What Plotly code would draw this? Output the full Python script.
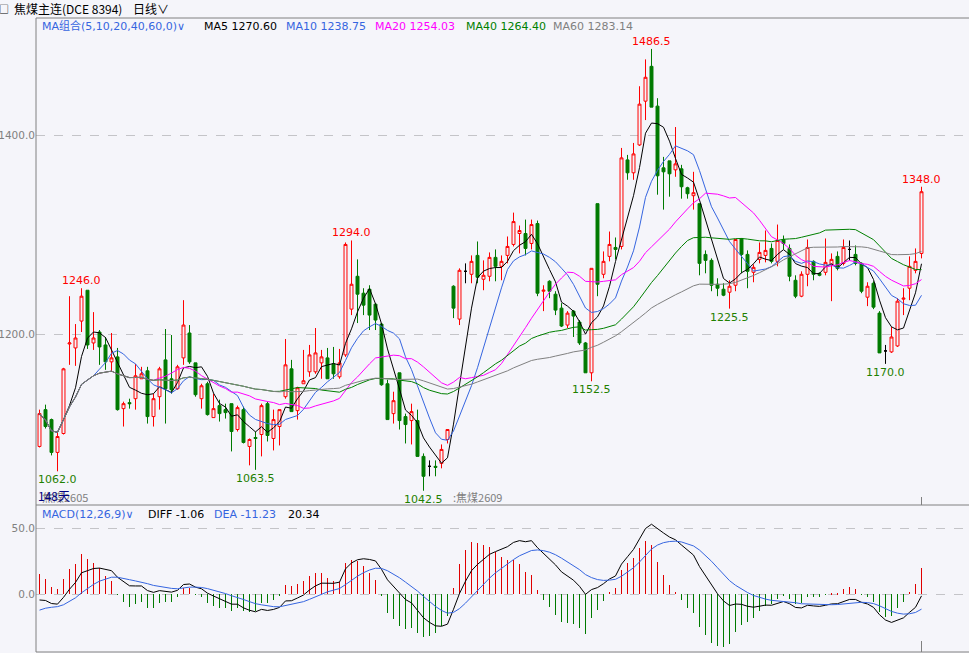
import plotly.graph_objects as go
import numpy as np
import pandas as pd

# ---------------- data ----------------
opens = [1087,1124,1114,1081,1100,1190,1186,1213,1244,1191,1202,1189,1172,1177,1125,1131,1135,1155,1163,1117,
         1137,1174,1155,1145,1176,1201,1171,1135,1150,1116,1128,1124,1130,1104,1124,1087,1096,1099,1130,1095,
         1107,1137,1165,1123,1150,1162,1162,1171,1176,1170,1157,1179,1225,1258,1241,1245,1230,1210,1150,1120,
         1161,1117,1113,1113,1077,1067,1067,1070,1094,1248,1215,1263,1260,1279,1255,1258,1277,1268,1279,1290,
         1301,1301,1291,1311,1243,1253,1240,1226,1209,1223,1212,1191,1161,1331,1260,1278,1287,1288,1375,1362,
         1390,1434,1469,1429,1367,1374,1365,1366,1347,1339,1331,1280,1274,1250,1245,1242,1249,1296,1280,1262,
         1275,1279,1286,1273,1295,1286,1254,1238,1260,1273,1261,1262,1270,1278,1271,1285,1280,1271,1237,1251,
         1221,1183,1182,1188,1235,1246,1264,1281]
highs = [1124,1129,1115,1102,1166,1238,1210,1246,1244,1222,1204,1197,1201,1186,1132,1135,1170,1167,1167,1140,
         1167,1205,1199,1169,1234,1209,1171,1150,1152,1140,1134,1130,1130,1128,1127,1095,1102,1130,1132,1124,
         1124,1195,1174,1147,1184,1189,1206,1184,1186,1187,1185,1292,1294,1275,1246,1249,1231,1211,1154,1142,
         1161,1120,1130,1124,1080,1073,1073,1089,1104,1249,1266,1271,1279,1293,1274,1282,1285,1279,1298,1322,
         1309,1315,1315,1314,1249,1254,1243,1231,1223,1224,1214,1192,1266,1331,1283,1303,1297,1387,1380,1392,
         1449,1476,1486.5,1437,1378,1374,1408,1370,1348,1363,1331,1284,1276,1256,1251,1254,1295,1296,1284,1270,
         1292,1304,1291,1310,1299,1290,1259,1263,1295,1274,1262,1296,1281,1283,1295,1294,1289,1272,1252,1253,
         1223,1189,1207,1236,1246,1278,1286,1348]
lows = [1086,1105,1078,1062,1099,1169,1168,1202,1185,1184,1169,1164,1162,1123,1107,1125,1124,1155,1110,1107,
        1124,1110,1140,1144,1169,1170,1137,1125,1118,1116,1112,1115,1082,1102,1090,1068,1063.5,1077,1092,1083,
        1088,1135,1122,1114,1150,1157,1160,1155,1155,1155,1155,1177,1219,1211,1219,1204,1204,1148,1114,1110,
        1104,1090,1089,1077,1042.5,1057,1057,1065,1090,1216,1209,1251,1251,1251,1244,1253,1253,1254,1271,1288,
        1281,1279,1285,1238,1223,1236,1219,1207,1206,1197,1189,1161,1152.5,1238,1256,1273,1275,1285,1355,1355,
        1389,1415,1428,1340,1325,1338,1358,1336,1336,1325,1259,1261,1243,1238,1238,1225.5,1243,1261,1246,1252,
        1271,1272,1271,1268,1285,1253,1236,1237,1248,1254,1258,1259,1233,1264,1269,1274,1269,1241,1228,1225,
        1181,1170,1181,1187,1219,1234,1261,1276]
closes = [1120,1107,1081,1097,1165,1191,1196,1238,1189,1196,1187,1172,1176,1124,1130,1130,1158,1160,1117,1135,
          1165,1145,1144,1167,1209,1172,1139,1148,1119,1125,1120,1121,1102,1126,1091,1094,1095,1128,1098,1114,
          1124,1169,1122,1146,1153,1179,1181,1177,1155,1160,1171,1290,1250,1240,1229,1219,1214,1149,1114,1133,
          1113,1109,1122,1077,1057,1067,1066,1084,1104,1226,1264,1263,1273,1257,1259,1277,1268,1273,1288,1313,
          1304,1286,1310,1241,1244,1243,1224,1208,1221,1218,1191,1161,1266,1250,1273,1290,1285,1377,1362,1381,
          1431,1458,1428,1359,1363,1361,1371,1348,1341,1342,1271,1274,1249,1246,1239,1248,1295,1280,1263,1267,
          1282,1284,1273,1294,1291,1258,1238,1260,1287,1260,1259,1272,1275,1266,1287,1285,1271,1243,1248,1227,
          1181,1183,1197,1233,1236,1268,1273,1343]

ma_periods = [5, 10, 20, 40, 60]
ma_colors = ["#000000", "#3565e0", "#ff00ff", "#008000", "#808080"]
ma_legend_values = ["1270.60", "1238.75", "1254.03", "1264.40", "1283.14"]

high_marks = [7, 52, 102, 147]
low_marks = [3, 36, 64, 92, 115, 141]

contract_labels = ["焦煤2605", "焦煤2609"]
contract_start = [0, 69]

# MACD panel start values (seed for EMA history)
DIFF_START = -4.3
DEA_START = -12.0
macd_legend = ["-1.06", "-11.23", "20.34"]

# ---------------- derived ----------------
n = len(closes)
idx = np.arange(n)
cs = pd.Series(closes, dtype=float)

doji = [o == c for o, c in zip(opens, closes)]

ema_s = closes[0] + DIFF_START
ema_l = float(closes[0])
dea = DEA_START
diffs, deas = [DIFF_START], [DEA_START]
for c in closes[1:]:
    ema_s = ema_s * 11 / 13 + c * 2 / 13
    ema_l = ema_l * 25 / 27 + c * 2 / 27
    d = ema_s - ema_l
    dea = dea * 0.8 + d * 0.2
    diffs.append(d)
    deas.append(dea)
diffs = np.array(diffs)
deas = np.array(deas)
hist = 2 * (diffs - deas)

# ---------------- layout helpers ----------------
W, H = 969, 653
L, T, B = 36, 18, 1
PW, PH = W - L, H - T - B
STEP, X0 = 6.0, 39.5   # pixel spacing of bars and centre of the first bar
def px(x):
    return (x - L) / PW
def py(y):
    return (H - B - y) / PH

BG = "#f5f5fa"
GRID = "#c4c4c8"
FONT = "DejaVu Sans"
CJK = "Noto Sans CJK SC"

fig = go.Figure()

# candles
nd = [i for i in range(n) if not doji[i]]
dj = [i for i in range(n) if doji[i]]
fig.add_trace(go.Candlestick(
    x=[idx[i] for i in nd], open=[opens[i] for i in nd], high=[highs[i] for i in nd],
    low=[lows[i] for i in nd], close=[closes[i] for i in nd],
    increasing=dict(line=dict(color="#ff0000", width=1), fillcolor=BG),
    decreasing=dict(line=dict(color="#007a00", width=1), fillcolor="#007a00"),
    whiskerwidth=0, xaxis="x", yaxis="y", showlegend=False, hoverinfo="skip"))
fig.add_trace(go.Candlestick(
    x=[idx[i] for i in dj], open=[opens[i] for i in dj], high=[highs[i] for i in dj],
    low=[lows[i] for i in dj], close=[closes[i] for i in dj],
    increasing=dict(line=dict(color="#000000", width=1), fillcolor="#000000"),
    decreasing=dict(line=dict(color="#000000", width=1), fillcolor="#000000"),
    whiskerwidth=0, xaxis="x", yaxis="y", showlegend=False, hoverinfo="skip"))

# moving averages
for p, col in zip(ma_periods, ma_colors):
    ma = cs.rolling(p, min_periods=1).mean()
    fig.add_trace(go.Scatter(x=idx, y=ma, mode="lines", line=dict(color=col, width=1),
                             xaxis="x", yaxis="y", showlegend=False, hoverinfo="skip"))

# MACD
fig.add_trace(go.Bar(x=idx, y=hist, width=1 / STEP,
                     marker=dict(color=["#e00000" if v >= 0 else "#007a00" for v in hist], line=dict(width=0)),
                     xaxis="x2", yaxis="y2", showlegend=False, hoverinfo="skip"))
fig.add_trace(go.Scatter(x=idx, y=diffs, mode="lines", line=dict(color="#000000", width=1),
                         xaxis="x2", yaxis="y2", showlegend=False, hoverinfo="skip"))
fig.add_trace(go.Scatter(x=idx, y=deas, mode="lines", line=dict(color="#3565e0", width=1),
                         xaxis="x2", yaxis="y2", showlegend=False, hoverinfo="skip"))

xr = [(L - X0) / STEP, (W - X0) / STEP]
split = py(505)

annotations = []
# title
annotations.append(dict(x=px(0), y=py(8), xref="paper", yref="paper", xanchor="left", yanchor="middle",
                        text="□", showarrow=False, font=dict(family=CJK, size=10, color="#000000"), xshift=-3))
annotations.append(dict(x=px(12), y=py(8), xref="paper", yref="paper", xanchor="left", yanchor="middle",
                        text="焦煤主连(DCE 8394)", showarrow=False,
                        font=dict(family=CJK, size=12, color="#000000")))
annotations.append(dict(x=px(131), y=py(8), xref="paper", yref="paper", xanchor="left", yanchor="middle",
                        text="日线∨", showarrow=False,
                        font=dict(family=CJK, size=12, color="#000000")))
# MA legend row
annotations.append(dict(x=px(40), y=py(26), xref="paper", yref="paper", xanchor="left", yanchor="middle",
                        text="MA组合(5,10,20,40,60,0)∨", showarrow=False,
                        font=dict(family=FONT + ", " + CJK, size=11, color="#3565e0")))
leg_x = [202, 284, 373, 464, 551]
leg_cols = ["#000000", "#3565e0", "#ff00ff", "#008000", "#808080"]
for p, v, xx, col in zip(ma_periods, ma_legend_values, leg_x, leg_cols):
    annotations.append(dict(x=px(xx), y=py(26), xref="paper", yref="paper", xanchor="left", yanchor="middle",
                            text=f"MA{p} {v}", showarrow=False, font=dict(family=FONT, size=11, color=col)))
# MACD legend row
macd_items = [("MACD(12,26,9)∨", 40, "#3565e0"), (f"DIFF {macd_legend[0]}", 146, "#000000"),
              (f"DEA {macd_legend[1]}", 212, "#3565e0"), (macd_legend[2], 286, "#000000")]
for t, xx, col in macd_items:
    annotations.append(dict(x=px(xx), y=py(514), xref="paper", yref="paper", xanchor="left", yanchor="middle",
                            text=t, showarrow=False, font=dict(family=FONT, size=11, color=col)))
# extreme labels
for i in high_marks:
    annotations.append(dict(x=idx[i], y=highs[i], xref="x", yref="y", xanchor="center", yanchor="bottom",
                            text=f"{highs[i]:.1f}", showarrow=False, yshift=-1,
                            font=dict(family=FONT, size=11, color="#ff0000")))
for i in low_marks:
    annotations.append(dict(x=idx[i], y=lows[i], xref="x", yref="y", xanchor="center", yanchor="top",
                            text=f"{lows[i]:.1f}", showarrow=False, yshift=0,
                            font=dict(family=FONT, size=11, color="#1f8000")))
# contract labels
for lab, s in zip(contract_labels, contract_start):
    annotations.append(dict(x=idx[s], y=py(497), xref="x", yref="paper", xanchor="left", yanchor="middle",
                            text=(":" if s > 0 else "") + lab, showarrow=False, xshift=-3 if s > 0 else 0,
                            font=dict(family=CJK, size=11, color="#808080")))
annotations.append(dict(x=px(36), y=py(495), xref="paper", yref="paper", xanchor="left", yanchor="middle",
                        text=f"{n}天", showarrow=False,
                        font=dict(family=CJK, size=12, color="#000080")))

shapes = [
    dict(type="line", xref="paper", yref="paper", x0=0, x1=1, y0=1, y1=1, line=dict(color="#808080", width=1)),
    dict(type="line", xref="paper", yref="paper", x0=0, x1=0, y0=0, y1=1, line=dict(color="#808080", width=1)),
    dict(type="line", xref="paper", yref="paper", x0=0, x1=1, y0=split, y1=split, line=dict(color="#808080", width=1)),
    dict(type="line", xref="paper", yref="paper", x0=0, x1=1, y0=0, y1=0, line=dict(color="#808080", width=1)),
    dict(type="line", xref="x", yref="paper", x0=idx[-1], x1=idx[-1], y0=split, y1=py(497),
         line=dict(color="#808080", width=1)),
    dict(type="line", xref="x", yref="paper", x0=idx[-1], x1=idx[-1], y0=0, y1=py(641),
         line=dict(color="#808080", width=1)),
]

axis_font = dict(family=FONT, size=10.5, color="#808080")
fig.update_layout(
    width=W, height=H, margin=dict(l=L, r=0, t=T, b=B, autoexpand=False),
    paper_bgcolor=BG, plot_bgcolor=BG,
    xaxis=dict(domain=[0, 1], range=xr, anchor="y", showgrid=False, zeroline=False, automargin=False,
               showticklabels=False, rangeslider=dict(visible=False), fixedrange=True),
    xaxis2=dict(domain=[0, 1], range=xr, anchor="y2", showgrid=False, zeroline=False, automargin=False,
                showticklabels=False, fixedrange=True),
    yaxis=dict(domain=[split, 1], range=[1400 - (505 - 135) * 1.005, 1400 + (135 - 18) * 1.005],
               tickvals=[1200, 1400], tickformat=".1f", showgrid=True, gridcolor=GRID, griddash="dash",
               zeroline=False, tickfont=axis_font, ticks="", anchor="x", automargin=False,
               ticklabelstandoff=0),
    yaxis2=dict(domain=[0, split], range=[(594.3 - 652) / 1.32, (594.3 - 505) / 1.32],
                tickvals=[0, 50], tickformat=".1f", showgrid=True, gridcolor=GRID, griddash="dash",
                zeroline=False, tickfont=axis_font, ticks="", anchor="x2", automargin=False,
                ticklabelstandoff=0),
    annotations=annotations, shapes=shapes, bargap=0,
)

fig.write_html("out.html", config={"displayModeBar": False},
               post_script="document.body.style.margin='0';document.body.style.overflow='hidden';"
                           "document.body.style.background='" + BG + "';")
